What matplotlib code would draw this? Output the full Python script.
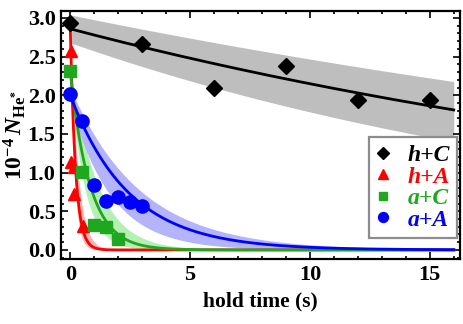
import numpy as np
import matplotlib
matplotlib.use('Agg')
import matplotlib.pyplot as plt
from matplotlib.ticker import MultipleLocator

plt.rcParams['font.family'] = 'Liberation Serif'
plt.rcParams['font.weight'] = 'bold'
plt.rcParams['mathtext.fontset'] = 'custom'
plt.rcParams['mathtext.rm'] = 'Liberation Serif:bold'
plt.rcParams['mathtext.it'] = 'Liberation Serif:bold:italic'
plt.rcParams['mathtext.bf'] = 'Liberation Serif:bold'

# measured points (hold time in s, N in 1e4)
t_hC = [0.0, 3.0, 6.0, 9.0, 12.0, 15.0]
n_hC = [2.93, 2.66, 2.09, 2.38, 1.94, 1.94]

t_hA = [0.03, 0.05, 0.15, 0.15, 0.55]
n_hA = [2.57, 1.14, 1.07, 0.72, 0.31]

t_aC = [0.0, 0.5, 1.0, 1.5, 2.0]
n_aC = [2.32, 1.01, 0.32, 0.30, 0.14]

t_aA = [0.0, 0.5, 1.0, 1.5, 2.0, 2.5, 3.0]
n_aA = [2.02, 1.67, 0.84, 0.63, 0.68, 0.62, 0.57]

# exponential fits: (amplitude, tau) for the fit and the two band edges
fit_hC = (2.86, 35.0); hi_hC = (3.04, 48.0); lo_hC = (2.68, 24.6)
fit_hA = (2.88, 0.22); hi_hA = (3.0, 0.30); lo_hA = (2.8, 0.17)
fit_aC = (2.30, 0.82); hi_aC = (2.4, 1.10); lo_aC = (2.2, 0.60)
fit_aA = (2.00, 2.45); hi_aA = (2.1, 2.90); lo_aA = (1.9, 1.70)

labels = ['h+C', 'h+A', 'a+C', 'a+A']
colors = ['black', '#ff0000', '#1fa81f', '#0000ff']
bands = ['#bebebe', '#ffb4b4', '#b4f0b4', '#b4b4fa']
markers = ['D', '^', 's', 'o']
msizes = [8.5, 9, 8.5, 9.5]

def expdec(p, t):
    return p[0]*np.exp(-t/p[1])

t = np.linspace(0, 16, 500)

fig = plt.figure(figsize=(4.63, 3.24), dpi=100)
ax = fig.add_axes([0.132, 0.2, 0.861, 0.766])

fits = [(fit_hC, hi_hC, lo_hC), (fit_hA, hi_hA, lo_hA), (fit_aC, hi_aC, lo_aC), (fit_aA, hi_aA, lo_aA)]
pts = [(t_hC, n_hC), (t_hA, n_hA), (t_aC, n_aC), (t_aA, n_aA)]

for i in range(4):
    f, hi, lo = fits[i]
    ax.fill_between(t, expdec(lo, t), expdec(hi, t), color=bands[i], lw=0, zorder=1+i*0.1)
for i in range(4):
    f, hi, lo = fits[i]
    ax.plot(t, expdec(f, t), color=colors[i], lw=2, zorder=3)
for i in range(4):
    ax.plot(pts[i][0], pts[i][1], ls='none', marker=markers[i], ms=msizes[i],
            color=colors[i], mec=colors[i], label=labels[i], zorder=4)

ax.set_xlim(-0.38, 16.25)
ax.set_ylim(-0.12, 3.09)
ax.xaxis.set_major_locator(MultipleLocator(5))
ax.xaxis.set_minor_locator(MultipleLocator(1))
ax.yaxis.set_major_locator(MultipleLocator(0.5))
ax.yaxis.set_minor_locator(MultipleLocator(0.1))
ax.yaxis.set_major_formatter(matplotlib.ticker.FormatStrFormatter('%.1f'))
ax.tick_params(which='both', direction='in', top=True, right=True, width=1.2)
ax.tick_params(which='major', length=5, labelsize=16, pad=4)
ax.tick_params(which='minor', length=2.5)
for s in ax.spines.values():
    s.set_linewidth(1.6)

ax.set_xlabel('hold time (s)', fontsize=15.5, fontweight='bold', labelpad=5)
ax.set_ylabel(r'$10^{-4}\,N_{\mathrm{He}^{*}}$', fontsize=17, labelpad=0)

leg = ax.legend(loc='lower right', bbox_to_anchor=(1.0, 0.075), fancybox=False,
                edgecolor='#8c8c8c', framealpha=1, handlelength=0.6, handletextpad=0.75,
                borderpad=0.3, labelspacing=0.0, markerscale=0.75, borderaxespad=0.12,
                prop={'family': 'Liberation Serif', 'style': 'italic', 'weight': 'bold', 'size': 17})
leg.get_frame().set_linewidth(1.6)
for txt, c in zip(leg.get_texts(), colors):
    txt.set_color(c)

fig.savefig('out.png', dpi=100)
